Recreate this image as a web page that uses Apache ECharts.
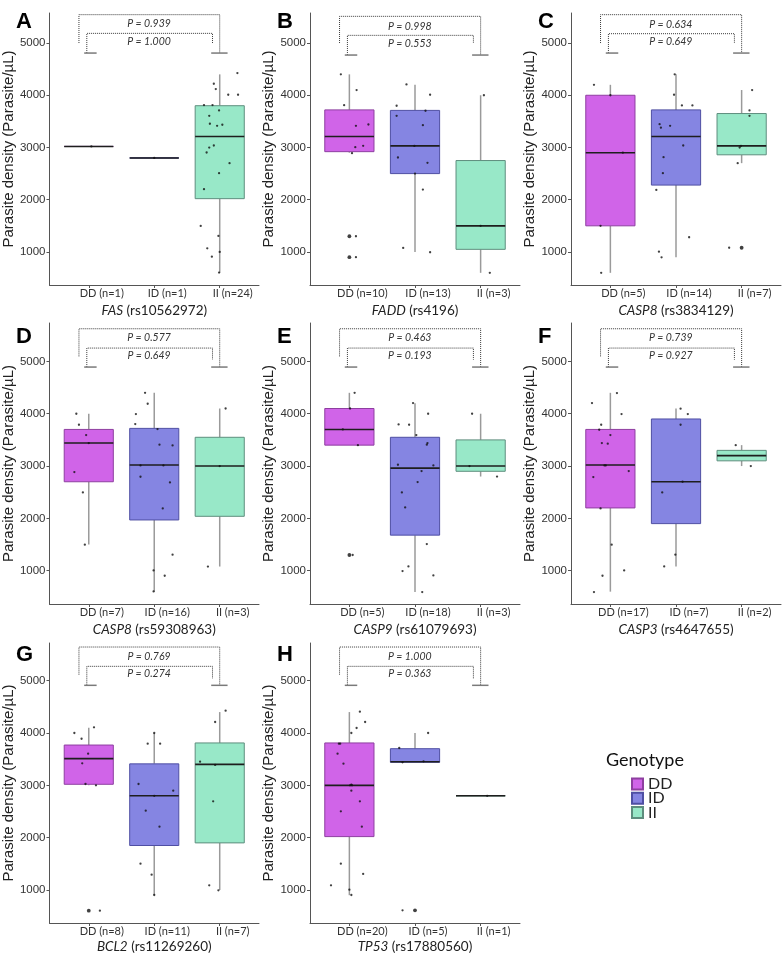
<!DOCTYPE html>
<html><head><meta charset="utf-8">
<script src="https://cdn.jsdelivr.net/npm/echarts@6/dist/echarts.min.js"></script>
<style>html,body{margin:0;padding:0;background:#fff}#chart{width:784px;height:959px}</style>
</head><body><div id="chart"></div>
<script>
// ---------------- DATA ----------------
const genotypes = ['DD', 'ID', 'II'];
const panelLetters = ['A', 'B', 'C', 'D', 'E', 'F', 'G', 'H'];
const geneNames = ['FAS', 'FADD', 'CASP8', 'CASP8', 'CASP9', 'CASP3', 'BCL2', 'TP53'];
const snpIds = ['rs10562972', 'rs4196', 'rs3834129', 'rs59308963', 'rs61079693', 'rs4647655', 'rs11269260', 'rs17880560'];
const sampleCounts = [[1, 1, 24], [10, 13, 3], [5, 14, 7], [7, 16, 3], [5, 18, 3], [17, 7, 2], [8, 11, 7], [20, 5, 1]];
const pOuter = ['0.939', '0.998', '0.634', '0.577', '0.463', '0.739', '0.769', '1.000'];
const pInner = ['1.000', '0.553', '0.649', '0.649', '0.193', '0.927', '0.274', '0.363'];
const yTicks = [1000, 2000, 3000, 4000, 5000];
const yAxisTitle = 'Parasite density (Parasite/µL)';
const legendTitle = 'Genotype';

// box statistics per genotype: [lower whisker, Q1, median, Q3, upper whisker]
const boxStatsA = [[3020, 3020, 3020, 3020, 3020], [2800, 2800, 2800, 2800, 2800], [600, 2020, 3210, 3800, 4400]];
const boxStatsB = [[2900, 2920, 3210, 3720, 4400], [1000, 2500, 3030, 3710, 4200], [600, 1050, 1500, 2750, 4000]];
const boxStatsC = [[600, 1500, 2900, 4000, 4200], [900, 2280, 3210, 3720, 4400], [2700, 2860, 3030, 3650, 4100]];
const boxStatsD = [[1500, 2700, 3440, 3700, 4000], [600, 1970, 3020, 3720, 4400], [1080, 2040, 3000, 3550, 4100]];
const boxStatsE = [[3400, 3400, 3700, 4100, 4400], [595, 1680, 2960, 3550, 4200], [2800, 2900, 3000, 3500, 4000]];
const boxStatsF = [[600, 2200, 3020, 3700, 4400], [1080, 1900, 2700, 3900, 4100], [3000, 3100, 3200, 3300, 3400]];
const boxStatsG = [[3000, 3020, 3510, 3770, 4100], [900, 1850, 2800, 3410, 4000], [1000, 1900, 3400, 3810, 4400]];
const boxStatsH = [[900, 2020, 3000, 3810, 4400], [3440, 3440, 3450, 3700, 4000], [2800, 2800, 2800, 2800, 2800]];

// individual observations per genotype
const pointsA = [[3020], [2800], [4425, 4220, 4118, 4010, 4010, 3812, 3812, 3607, 3709, 3454, 3415, 3435, 3038, 2999, 2904, 2700, 2508, 2201, 1498, 1307, 1070, 1000, 910, 604]];
const pointsB = [[4400, 4100, 3810, 3415, 3440, 3006, 3032, 2891, 1300, 900], [4208, 4010, 3799, 3703, 3607, 3428, 3030, 2808, 2706, 2500, 2195, 1077, 994], [4000, 1500, 600]];
const pointsC = [[4200, 4000, 2900, 1500, 600], [4400, 4010, 3805, 3805, 3447, 3415, 3380, 3038, 2815, 2508, 2188, 1281, 1006, 897], [4100, 3709, 3607, 3030, 3000, 2700, 1080]];
const pointsD = [[4000, 3790, 3592, 3440, 2885, 2497, 1497], [4400, 4191, 3994, 3803, 3707, 3408, 3395, 3013, 3013, 2796, 2688, 2191, 1306, 1006, 904, 605], [4100, 3000, 1080]];
const pointsE = [[4400, 4100, 3700, 3400, 1300], [4204, 4000, 3796, 3790, 3592, 3439, 3408, 3025, 3013, 2904, 2694, 2497, 2210, 1510, 1083, 994, 911, 592], [4000, 3000, 2800]];
const pointsF = [[4395, 4204, 3994, 3790, 3694, 3592, 3439, 3427, 3013, 3013, 2904, 2790, 2191, 1497, 1006, 904, 592], [4096, 3994, 3790, 2700, 2497, 1306, 1083], [3400, 3000]];
const pointsG = [[4108, 4000, 3890, 3605, 3420, 3025, 3000, 605], [4000, 3796, 3796, 3025, 2898, 2800, 2516, 2210, 1503, 1293, 904], [4427, 4210, 3452, 3389, 2694, 1089, 994]];
const pointsH = [[4408, 4210, 4096, 4000, 3796, 3796, 3605, 3414, 3013, 3000, 3000, 2898, 2694, 2503, 2210, 1503, 1306, 1089, 1006, 904], [4000, 3713, 3459, 3440, 611], [2800]];

const jitterA = [[0.04], [0], [0.27, -0.09, -0.06, 0.13, 0.28, -0.24, -0.11, -0.16, -0.01, -0.15, -0.04, 0.04, -0.09, -0.16, -0.20, 0.15, -0.01, -0.24, -0.29, -0.02, -0.19, 0, -0.12, -0.01]];
const jitterB = [[-0.13, 0.11, -0.08, 0.10, 0.29, 0.09, 0.21, 0.04, 0.10, 0.10], [-0.13, 0.23, -0.28, 0.16, -0.28, 0.12, -0.01, -0.26, 0.19, 0, 0.12, -0.18, 0.23], [0.05, 0, 0.14]];
const jitterC = [[-0.25, 0, 0.19, -0.15, -0.14], [-0.02, -0.03, 0.09, 0.25, -0.25, -0.09, -0.23, 0.11, -0.19, -0.20, -0.30, 0.20, -0.26, -0.22], [0.16, 0.12, 0.12, -0.01, -0.03, -0.06, -0.19]];
const jitterD = [[-0.19, -0.15, -0.04, 0, -0.22, -0.09, -0.06], [-0.14, -0.10, -0.28, -0.29, 0.05, 0.08, 0.28, -0.21, 0.14, -0.21, 0.24, 0.13, 0.28, -0.01, 0.16, -0.01], [0.09, 0, -0.18]];
const jitterE = [[0.08, 0.01, -0.10, 0.13, 0.05], [-0.03, 0.20, -0.25, -0.09, 0.02, 0.19, 0.18, -0.26, 0.28, 0.10, 0.04, -0.20, -0.15, 0.18, -0.10, -0.19, 0.28, 0.11], [-0.13, -0.17, 0.25]];
const jitterF = [[0.10, -0.28, 0.17, -0.14, -0.17, 0, -0.13, -0.04, -0.09, -0.07, 0.28, -0.26, -0.15, 0.02, 0.21, -0.12, -0.25], [0.07, 0.18, 0.07, 0.10, -0.21, -0.01, -0.18], [-0.09, 0.14]];
const jitterG = [[0.08, -0.22, -0.11, -0.01, -0.10, -0.05, 0.11, 0.17], [0, -0.10, 0.09, -0.24, 0.29, 0, -0.13, 0.08, -0.21, -0.04, 0], [0.09, -0.07, -0.30, -0.07, -0.10, -0.16, -0.02]];
const jitterH = [[0.16, 0.24, 0.11, 0.03, -0.16, -0.14, -0.18, -0.09, 0.03, 0.04, 0.01, 0.03, 0.16, -0.13, 0.19, -0.13, 0.21, -0.28, 0, 0.03], [0.20, -0.24, 0.13, -0.19, -0.19], [0.10]];

// ---------------- LAYOUT / STYLE ----------------
const boxStats = [boxStatsA, boxStatsB, boxStatsC, boxStatsD, boxStatsE, boxStatsF, boxStatsG, boxStatsH];
const points = [pointsA, pointsB, pointsC, pointsD, pointsE, pointsF, pointsG, pointsH];
const jitters = [jitterA, jitterB, jitterC, jitterD, jitterE, jitterF, jitterG, jitterH];

const fills = ['#D064E8', '#8585E2', '#98E8C8'];
const borders = ['#8E3FA0', '#4F4FA3', '#5E8E7E'];
const gridLefts = [49, 310, 571];
const gridWidth = 210;
const rowTops = [13, 323, 643];
const rowHeights = [272, 281, 280];
const rowYRange = [[367, 5575], [364, 5734], [369, 5720]];
const letterY = [22, 337, 655];
const xNameGap = [19, 19, 17];
const HALF = 0.375;
// bracket levels (y data units): cap, outerTop, outerLeftEnd, innerTop, innerRightEnd, pOuterY, pInnerY
const bracketLevels = [
  [4808, 5543, 5000, 5185, 5000, 5370, 5025],
  [4770, 5511, 5000, 5147, 5000, 5320, 4981],
  [4808, 5543, 5000, 5179, 5000, 5355, 5019],
  [4892, 5624, 5096, 5255, 5032, 5446, 5108],
  [4892, 5624, 5096, 5255, 5032, 5446, 5108],
  [4892, 5624, 5096, 5255, 5032, 5446, 5108],
  [4911, 5643, 5115, 5274, 5045, 5465, 5127],
  [4911, 5643, 5115, 5274, 5045, 5465, 5127]
];
const BR = { outerL: 0.85, innerL: 0.97, innerR: 2.89, outerR: 3.0, capDD: [0.93, 1.12], capII: [2.87, 3.12], labelX: 1.92 };

function makeBoxRenderer(g) {
  return function (params, api) {
    const x = api.value(0);
    const lo = api.value(1), q1 = api.value(2), med = api.value(3), q3 = api.value(4), hi = api.value(5);
    const tl = api.coord([x - HALF, q3]);
    const br = api.coord([x + HALF, q1]);
    const pHi = api.coord([x, hi]), pQ3 = api.coord([x, q3]), pQ1 = api.coord([x, q1]), pLo = api.coord([x, lo]);
    const m1 = api.coord([x - HALF, med]), m2 = api.coord([x + HALF, med]);
    const wStyle = { stroke: '#9a9a9a', lineWidth: 1.5 };
    return {
      type: 'group',
      children: [
        { type: 'line', shape: { x1: pHi[0], y1: pHi[1], x2: pQ3[0], y2: pQ3[1] }, style: wStyle },
        { type: 'line', shape: { x1: pQ1[0], y1: pQ1[1], x2: pLo[0], y2: pLo[1] }, style: wStyle },
        { type: 'rect', shape: { x: tl[0], y: tl[1], width: br[0] - tl[0], height: br[1] - tl[1] },
          style: { fill: fills[g], stroke: borders[g], lineWidth: 1 } },
        { type: 'line', shape: { x1: m1[0], y1: m1[1], x2: m2[0], y2: m2[1] }, style: { stroke: '#1e1e1e', lineWidth: 1.6 } }
      ]
    };
  };
}

function makeBracketRenderer(p) {
  return function (params, api) {
    const L = bracketLevels[p];
    const c = (x, y) => api.coord([x, y]);
    const dotted = { stroke: '#3a3a3a', lineWidth: 1, lineDash: [1, 1], fill: null };
    const capStyle = { stroke: '#7a7a7a', lineWidth: 1.5 };
    const txt = (y, s) => {
      const q = c(BR.labelX, y);
      return { type: 'text', x: q[0], y: q[1], style: { text: 'P = ' + s, fontFamily: 'Lato', fontSize: 10.5, fontStyle: 'italic', fill: '#333', align: 'center', verticalAlign: 'middle' } };
    };
    const cd1 = c(BR.capDD[0], L[0]), cd2 = c(BR.capDD[1], L[0]);
    const ci1 = c(BR.capII[0], L[0]), ci2 = c(BR.capII[1], L[0]);
    return {
      type: 'group',
      children: [
        { type: 'polyline', shape: { points: [c(BR.outerL, L[2]), c(BR.outerL, L[1]), c(BR.outerR, L[1]), c(BR.outerR, L[0])] }, style: dotted },
        { type: 'polyline', shape: { points: [c(BR.innerL, L[0]), c(BR.innerL, L[3]), c(BR.innerR, L[3]), c(BR.innerR, L[4])] }, style: dotted },
        { type: 'line', shape: { x1: cd1[0], y1: cd1[1], x2: cd2[0], y2: cd2[1] }, style: capStyle },
        { type: 'line', shape: { x1: ci1[0], y1: ci1[1], x2: ci2[0], y2: ci2[1] }, style: capStyle },
        txt(L[5], pOuter[p]),
        txt(L[6], pInner[p])
      ]
    };
  };
}

const grids = [], xAxes = [], yAxes = [], series = [], graphics = [];
for (let p = 0; p < 8; p++) {
  const row = Math.floor(p / 3), col = p % 3;
  grids.push({ left: gridLefts[col], top: rowTops[row], width: gridWidth, height: rowHeights[row] });
  const labels = genotypes.map((g, i) => g + ' (n=' + sampleCounts[p][i] + ')');
  xAxes.push({
    type: 'value', gridIndex: p, min: 0.4, max: 3.6,
    name: '{it|' + geneNames[p] + '} (' + snpIds[p] + ')',
    nameLocation: 'middle', nameGap: xNameGap[row],
    nameTextStyle: { fontFamily: 'Lato', fontSize: 13.5, color: '#222', rich: { it: { fontStyle: 'italic', fontFamily: 'Lato', fontSize: 13.5, color: '#222' } } },
    splitLine: { show: false },
    axisLine: { show: true, lineStyle: { color: '#555', width: 1 } },
    axisTick: { show: true, length: 3, customValues: [1, 2, 3], lineStyle: { color: '#555' } },
    axisLabel: { customValues: [1, 2, 3], formatter: v => labels[Math.round(v) - 1], fontFamily: 'Lato', fontSize: 11, color: '#333', margin: 3, padding: [0, 0, 0, 26] }
  });
  yAxes.push({
    type: 'value', gridIndex: p, min: rowYRange[row][0], max: rowYRange[row][1],
    name: yAxisTitle, nameLocation: 'middle', nameGap: 29,
    nameTextStyle: { fontFamily: 'Liberation Sans', fontSize: 15, color: '#222' },
    splitLine: { show: false },
    axisLine: { show: true, lineStyle: { color: '#555', width: 1 } },
    axisTick: { show: true, length: 3, customValues: yTicks, lineStyle: { color: '#555' } },
    axisLabel: { customValues: yTicks, formatter: v => String(Math.round(v)), fontFamily: 'Liberation Sans', fontSize: 11.5, color: '#333', margin: 4 }
  });
  for (let g = 0; g < 3; g++) {
    series.push({
      type: 'custom', name: genotypes[g], xAxisIndex: p, yAxisIndex: p, clip: false, silent: true, z: 2,
      itemStyle: { color: fills[g], borderColor: borders[g], borderWidth: 1 },
      encode: { x: 0, y: [1, 2, 3, 4, 5] },
      data: [[g + 1].concat(boxStats[p][g])],
      renderItem: makeBoxRenderer(g)
    });
  }
  const jit = [], outl = [];
  for (let g = 0; g < 3; g++) {
    const s = boxStats[p][g];
    const iqr = s[3] - s[1];
    points[p][g].forEach((v, i) => {
      jit.push([g + 1 + jitters[p][g][i], v]);
      if (v < s[1] - 1.5 * iqr || v > s[3] + 1.5 * iqr) outl.push([g + 1, v]);
    });
  }
  series.push({ type: 'scatter', name: 'obs' + p, xAxisIndex: p, yAxisIndex: p, silent: true, z: 5,
    symbolSize: 2.3, itemStyle: { color: '#111' }, data: jit });
  series.push({ type: 'scatter', name: 'out' + p, xAxisIndex: p, yAxisIndex: p, silent: true, z: 5,
    symbolSize: 3.8, itemStyle: { color: '#111' }, data: outl });
  series.push({ type: 'custom', name: 'sig' + p, xAxisIndex: p, yAxisIndex: p, clip: false, silent: true, z: 4,
    data: [[0]], encode: { x: 0 }, renderItem: makeBracketRenderer(p) });
  graphics.push({ type: 'text', left: gridLefts[col] - 33, top: letterY[row] - 11,
    style: { text: panelLetters[p], fontFamily: 'Liberation Sans', fontWeight: 'bold', fontSize: 22, fill: '#000' } });
}
graphics.push({ type: 'text', left: 606, top: 751, style: { text: legendTitle, fontFamily: 'Lato', fontSize: 18, fill: '#111' } });

const chart = echarts.init(document.getElementById('chart'), null, { renderer: 'canvas' });
chart.setOption({
  animation: false,
  backgroundColor: '#fff',
  grid: grids, xAxis: xAxes, yAxis: yAxes, series: series, graphic: graphics,
  legend: {
    data: genotypes, orient: 'vertical', left: 626, top: 771, icon: 'rect',
    itemWidth: 11, itemHeight: 11, itemGap: -1.8, selectedMode: false,
    textStyle: { fontFamily: 'Lato', fontSize: 16, color: '#222' }
  }
});
</script></body></html>
